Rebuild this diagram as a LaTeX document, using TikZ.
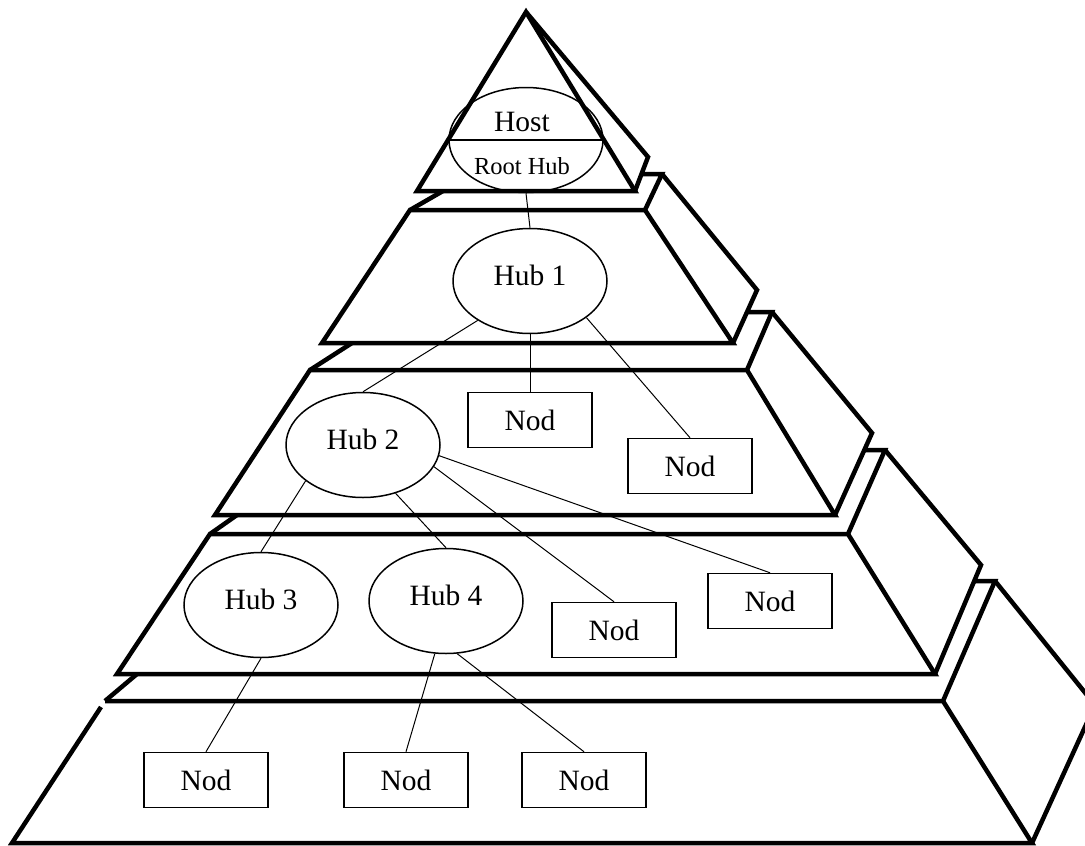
\documentclass[tikz,border=0pt]{standalone}
\usepackage{fontspec}
\setmainfont{Liberation Serif}
\usetikzlibrary{positioning,shapes.geometric}

\begin{document}
\begin{tikzpicture}[x=1pt, y=-1pt,
  hub/.style={ellipse, draw, line width=1.5pt, minimum width=154pt, minimum height=105pt, inner sep=0pt, text depth=12pt, font=\fontsize{29.5}{32}\selectfont},
  nod/.style={rectangle, draw, line width=1.5pt, minimum width=124pt, minimum height=55pt, inner sep=0pt, font=\fontsize{29.5}{32}\selectfont},
  slab/.style={line width=4.5pt},
  wire/.style={line width=1pt}]
\useasboundingbox (0,0) rectangle (1085,846);
\node[hub] (host) at (526,140) {};
\node[font=\fontsize{29.5}{32}\selectfont] (hosttxt) at (522,122) {Host};
\node[font=\fontsize{24.5}{26}\selectfont] (roottxt) at (522,166) {Root Hub};
\draw[line width=1.5pt] (host.west) -- (host.east);
\node[hub] (h1) at (530,281) {Hub 1};
\node[hub] (h2) at (363,445) {Hub 2};
\node[hub] (h3) at (261,605) {Hub 3};
\node[hub] (h4) at (446,601) {Hub 4};
\node[nod] (n1) at (530,420) {Nod};
\node[nod] (n2) at (690,466) {Nod};
\node[nod] (n3) at (614,630) {Nod};
\node[nod] (n4) at (770,601) {Nod};
\node[nod] (n5) at (206,780) {Nod};
\node[nod] (n6) at (406,780) {Nod};
\node[nod] (n7) at (584,780) {Nod};
% pyramid
\draw[slab] (526,12) -- (635,191) -- (417,191) -- cycle;
\draw[slab] (526,12) -- (648,157) -- (635,191);
\draw[slab] (443,191) -- (410,210);
\draw[slab] (641,174) -- (662,174) -- (645,210);
\draw[slab] (410,210) -- (645,210) -- (733,343) -- (322,343) -- cycle;
\draw[slab] (662,174) -- (757,290) -- (733,343);
\draw[slab] (352,343) -- (310,370);
\draw[slab] (748,312) -- (772,312) -- (747,370);
\draw[slab] (310,370) -- (747,370) -- (835,515) -- (215,515) -- cycle;
\draw[slab] (772,312) -- (872,433) -- (835,515);
\draw[slab] (237,515) -- (210,534);
\draw[slab] (865,450) -- (885,450) -- (848,534);
\draw[slab] (210,534) -- (848,534) -- (935,674) -- (117,674) -- cycle;
\draw[slab] (885,450) -- (981,565) -- (935,674);
\draw[slab] (137,674) -- (105,701);
\draw[slab] (975,581) -- (995,581) -- (943,701);
\draw[slab] (101,707) -- (12,843) -- (1032,843) -- (943,701) -- (105,701);
\draw[slab] (995,581) -- (1095,705) -- (1032,843);
% links
\draw[wire] (host.south) -- (h1.north);
\draw[wire] (h1.217) -- (h2.north);
\draw[wire] (h1.south) -- (n1.north);
\draw[wire] (h1.327) -- (n2.north);
\draw[wire] (h2.212) -- (h3.north);
\draw[wire] (h2.304) -- (h4.north);
\draw[wire] (h2.343) -- (n3.north);
\draw[wire] (h2.352) -- (n4.north);
\draw[wire] (h3.south) -- (n5.north);
\draw[wire] (h4.258) -- (n6.north);
\draw[wire] (h4.282) -- (n7.north);
\end{tikzpicture}
\end{document}
